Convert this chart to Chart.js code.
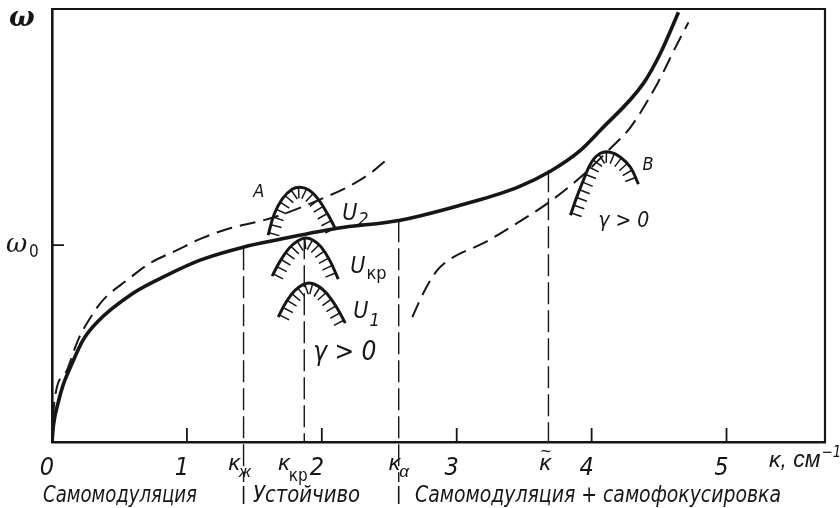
<!DOCTYPE html>
<html><head><meta charset="utf-8">
<script src="https://cdn.jsdelivr.net/npm/chart.js@4/dist/chart.umd.min.js"></script>
<style>html,body{margin:0;padding:0;background:#fff}</style>
</head><body>
<canvas id="c" width="840" height="508"></canvas>
<script>
// ---------- data ----------
const tickValues = [0, 1, 2, 3, 4, 5];
const tickLabels = ['0', '1', '2', '3', '4', '5'];
const omega0 = 1;

// solid dispersion curve ω(κ)
const solidK = [0, 0.011, 0.045, 0.082, 0.134, 0.230, 0.334, 0.601, 0.853, 1.098, 1.417, 1.691, 2.114, 2.582, 3.079, 3.450, 3.694, 3.917, 4.065, 4.384, 4.510, 4.644];
const solidW = [0, 0.086, 0.198, 0.289, 0.376, 0.518, 0.609, 0.756, 0.848, 0.924, 0.990, 1.030, 1.086, 1.127, 1.213, 1.294, 1.376, 1.482, 1.584, 1.822, 1.975, 2.183];

// upper dashed branch
const dashUpK = [0, 0.007, 0.022, 0.111, 0.193, 0.282, 0.378, 0.556, 0.727, 0.927, 1.113, 1.320, 1.543, 1.691, 2.010, 2.188, 2.359, 2.485];
const dashUpW = [0, 0.112, 0.228, 0.365, 0.518, 0.629, 0.721, 0.822, 0.909, 0.975, 1.036, 1.086, 1.122, 1.152, 1.239, 1.294, 1.365, 1.437];

// lower dashed branch
const dashLoK = [2.671, 2.752, 2.856, 2.975, 3.197, 3.435, 3.694, 3.917, 4.139, 4.288, 4.488, 4.636, 4.718];
const dashLoW = [0.635, 0.756, 0.873, 0.939, 1.010, 1.107, 1.223, 1.345, 1.492, 1.599, 1.822, 2.025, 2.132];

// instability "bells"
const bellAK = [1.602, 1.647, 1.706, 1.780, 1.840, 1.907, 1.973, 2.040, 2.099];
const bellAW = [1.051, 1.157, 1.234, 1.284, 1.294, 1.279, 1.234, 1.162, 1.086];
const bellKrK = [1.632, 1.691, 1.758, 1.818, 1.877, 1.936, 1.996, 2.062, 2.122];
const bellKrW = [0.843, 0.919, 0.985, 1.020, 1.036, 1.025, 0.990, 0.919, 0.827];
const bellU1K = [1.677, 1.736, 1.803, 1.892, 1.973, 2.047, 2.114, 2.174];
const bellU1W = [0.635, 0.711, 0.772, 0.807, 0.792, 0.746, 0.680, 0.604];
const bellBK = [3.843, 3.887, 3.939, 3.999, 4.065, 4.139, 4.214, 4.288, 4.347];
const bellBW = [1.152, 1.239, 1.330, 1.421, 1.467, 1.472, 1.447, 1.396, 1.310];

// characteristic wavenumbers (vertical dashed lines)
const kappaVals = [1.42, 1.87, 2.57, 3.68];
const kappaTop = [0.985, 1.040, 1.127, 1.381];
const kappaBottom = [-0.203, 0, -0.203, 0];
const kappaMain = ['κ', 'κ', 'κ', 'κ'];
const kappaSub = ['ж', 'кр', 'α', ''];

const regionLabels = ['Самомодуляция', 'Устойчиво', 'Самомодуляция + самофокусировка'];

// ---------- styling ----------
const INK = '#161616';
const SANS = "'Liberation Sans Narrow','DejaVu Sans Condensed','Liberation Sans',sans-serif";
const WIDE = "'Liberation Sans','DejaVu Sans',sans-serif";
const SERIF = "'DejaVu Serif','Liberation Serif',serif";
const fnt = (size, fam = SANS, style = 'italic', weight = 'normal') => `${style} ${weight} ${size}px ${fam}`;

const pts = (xs, ys) => xs.map((x, i) => ({x, y: ys[i]}));

const curve = (data, opts) => Object.assign({
  data, showLine: true, pointRadius: 0, borderColor: INK, backgroundColor: INK,
  fill: false, borderWidth: 2
}, opts);

const datasets = [
  curve(pts(solidK, solidW), {borderWidth: 3.6, cubicInterpolationMode: 'monotone'}),
  curve(pts(dashUpK, dashUpW), {borderWidth: 2, borderDash: [16, 8], cubicInterpolationMode: 'monotone'}),
  curve(pts(dashLoK, dashLoW), {borderWidth: 2, borderDash: [16, 8], cubicInterpolationMode: 'monotone'}),
  curve(pts(bellAK, bellAW), {borderWidth: 3, tension: 0.4, hatch: true}),
  curve(pts(bellKrK, bellKrW), {borderWidth: 3, tension: 0.4, hatch: true}),
  curve(pts(bellU1K, bellU1W), {borderWidth: 3, tension: 0.4, hatch: true}),
  curve(pts(bellBK, bellBW), {borderWidth: 3, tension: 0.4, hatch: true}),
];
kappaVals.forEach((k, i) => {
  datasets.push(curve([{x: k, y: kappaTop[i]}, {x: k, y: kappaBottom[i]}],
    {borderWidth: 1.4, borderDash: [22, 6], clip: false}));
});

// annotation layout (data coords)
const notes = [
  {main: 'A', x: 1.491, y: 1.244, size: 18},
  {main: 'U', sub: '2', x: 2.151, y: 1.127, size: 23, subSize: 18, dy: 5},
  {main: 'U', sub: 'кр', x: 2.211, y: 0.858, size: 23, subSize: 18, dy: 6, upright: true},
  {main: 'U', sub: '1', x: 2.233, y: 0.629, size: 23, subSize: 18, dy: 8},
  {main: 'γ > 0', x: 1.936, y: 0.416, size: 26},
  {main: 'B', x: 4.377, y: 1.381, size: 18},
  {main: 'γ > 0', x: 4.050, y: 1.091, size: 21},
];

function bezierSamples(points) {
  const out = [];
  for (let i = 0; i < points.length - 1; i++) {
    const p0 = points[i], p1 = points[i + 1];
    const c1x = p0.cp2x ?? p0.x, c1y = p0.cp2y ?? p0.y;
    const c2x = p1.cp1x ?? p1.x, c2y = p1.cp1y ?? p1.y;
    for (let s = 0; s < 12; s++) {
      const t = s / 12, u = 1 - t;
      out.push({
        x: u*u*u*p0.x + 3*u*u*t*c1x + 3*u*t*t*c2x + t*t*t*p1.x,
        y: u*u*u*p0.y + 3*u*u*t*c1y + 3*u*t*t*c2y + t*t*t*p1.y
      });
    }
  }
  const last = points[points.length - 1];
  out.push({x: last.x, y: last.y});
  return out;
}

function hatch(ctx, poly, spacing, len) {
  const segs = []; let total = 0;
  for (let i = 0; i < poly.length - 1; i++) {
    const dx = poly[i+1].x - poly[i].x, dy = poly[i+1].y - poly[i].y;
    const l = Math.hypot(dx, dy);
    segs.push({a: poly[i], dx, dy, l, s0: total}); total += l;
  }
  ctx.beginPath();
  for (let s = spacing * 0.3; s < total; s += spacing) {
    const seg = segs.find(g => s >= g.s0 && s <= g.s0 + g.l) || segs[segs.length - 1];
    if (!seg.l) continue;
    const t = (s - seg.s0) / seg.l;
    const px = seg.a.x + seg.dx * t, py = seg.a.y + seg.dy * t;
    const tx = seg.dx / seg.l, ty = seg.dy / seg.l;
    const nx = -ty, ny = tx;
    ctx.moveTo(px, py); ctx.lineTo(px + nx * len, py + ny * len);
  }
  ctx.stroke();
}

const decor = {
  id: 'decor',
  afterDatasetsDraw(chart) {
    const {ctx, chartArea: a, scales: {x, y}} = chart;
    ctx.save();
    ctx.strokeStyle = INK; ctx.fillStyle = INK; ctx.lineCap = 'butt';
    // frame top & right
    ctx.lineWidth = 2.2;
    ctx.beginPath(); ctx.moveTo(a.left, a.top); ctx.lineTo(a.right, a.top); ctx.lineTo(a.right, a.bottom); ctx.stroke();
    // inward ticks
    ctx.lineWidth = 1.8;
    ctx.beginPath();
    tickValues.forEach(v => {
      if (v === 0) return;
      const px = x.getPixelForValue(v);
      ctx.moveTo(px, a.bottom); ctx.lineTo(px, a.bottom - 14);
    });
    const py0 = y.getPixelForValue(omega0);
    ctx.moveTo(a.left, py0); ctx.lineTo(a.left + 12, py0);
    ctx.stroke();
    // hatching of bells
    ctx.lineWidth = 1.5;
    chart.data.datasets.forEach((ds, i) => {
      if (!ds.hatch) return;
      const meta = chart.getDatasetMeta(i);
      hatch(ctx, bezierSamples(meta.data), 8.2, 11);
    });
    // separators under region labels
    ctx.lineWidth = 1.6;
    ctx.beginPath();
    [kappaVals[0], kappaVals[2]].forEach(k => {
      const px = x.getPixelForValue(k);
      ctx.moveTo(px, 486); ctx.lineTo(px, 504);
    });
    ctx.stroke();

    ctx.textAlign = 'left'; ctx.textBaseline = 'alphabetic';
    // y axis labels
    ctx.font = fnt(27, SERIF, 'italic', 'bold');
    ctx.fillText('ω', 9, 26);
    ctx.font = fnt(26, SERIF, 'italic', 'normal');
    ctx.fillText('ω', 6, py0 + 7);
    ctx.font = fnt(17, SANS, 'normal');
    ctx.fillText('0', 29, py0 + 12);

    // kappa labels under axis
    const kOff = [-15, -26, -10, -9];
    kappaVals.forEach((k, i) => {
      const px = x.getPixelForValue(k) + kOff[i];
      ctx.font = fnt(23, WIDE);
      ctx.fillText(kappaMain[i], px, 470);
      const w = ctx.measureText(kappaMain[i]).width;
      if (kappaSub[i]) {
        ctx.font = i === 1 ? fnt(17, SANS, 'normal') : fnt(17, WIDE);
        ctx.fillText(kappaSub[i], px + w - 1, i === 1 ? 481 : 477);
      } else {
        ctx.font = fnt(18, WIDE, 'normal');
        ctx.fillText('~', px + 1, 457);
      }
    });
    // axis title
    ctx.font = fnt(23, WIDE);
    ctx.fillText('κ, см', 769, 467);
    const wT = ctx.measureText('κ, см').width;
    ctx.font = fnt(15, SANS);
    ctx.fillText('−1', 769 + wT + 1, 457);

    // region labels (fit to widths)
    const reg = [[43, 197], [253, 360], [415, 781]];
    ctx.font = fnt(23, SANS);
    regionLabels.forEach((s, i) => {
      const m = ctx.measureText(s).width;
      const target = reg[i][1] - reg[i][0];
      ctx.save();
      ctx.translate(reg[i][0], 502);
      ctx.scale(target / m, 1);
      ctx.fillText(s, 0, 0);
      ctx.restore();
    });

    // in-plot annotations
    notes.forEach(n => {
      const px = x.getPixelForValue(n.x), py = y.getPixelForValue(n.y);
      ctx.font = fnt(n.size, SANS);
      ctx.fillText(n.main, px, py);
      if (n.sub) {
        const w = ctx.measureText(n.main).width;
        ctx.font = fnt(n.subSize, SANS, n.upright ? 'normal' : 'italic');
        ctx.fillText(n.sub, px + w + 1, py + n.dy);
      }
    });
    ctx.restore();
  }
};

new Chart(document.getElementById('c'), {
  type: 'scatter',
  data: {datasets},
  options: {
    responsive: false, animation: false,
    layout: {padding: {top: 9, right: 15, left: 0, bottom: 0}},
    plugins: {legend: {display: false}, tooltip: {enabled: false}},
    scales: {
      x: {
        type: 'linear', min: 0, max: 5.73,
        afterFit: s => { s.height = 66; },
        afterBuildTicks: s => { s.ticks = tickValues.map(v => ({value: v})); },
        grid: {display: false, drawTicks: false},
        border: {display: true, color: INK, width: 2.4},
        ticks: {
          callback: (v, i) => tickLabels[i],
          font: {family: SANS, style: 'italic', size: 25},
          color: INK, padding: 11, labelOffset: -5, maxRotation: 0, autoSkip: false
        }
      },
      y: {
        type: 'linear', min: 0, max: 2.2,
        afterFit: s => { s.width = 52; },
        grid: {display: false, drawTicks: false},
        border: {display: true, color: INK, width: 2.6},
        ticks: {display: false}
      }
    }
  },
  plugins: [decor]
});
</script>
</body></html>
